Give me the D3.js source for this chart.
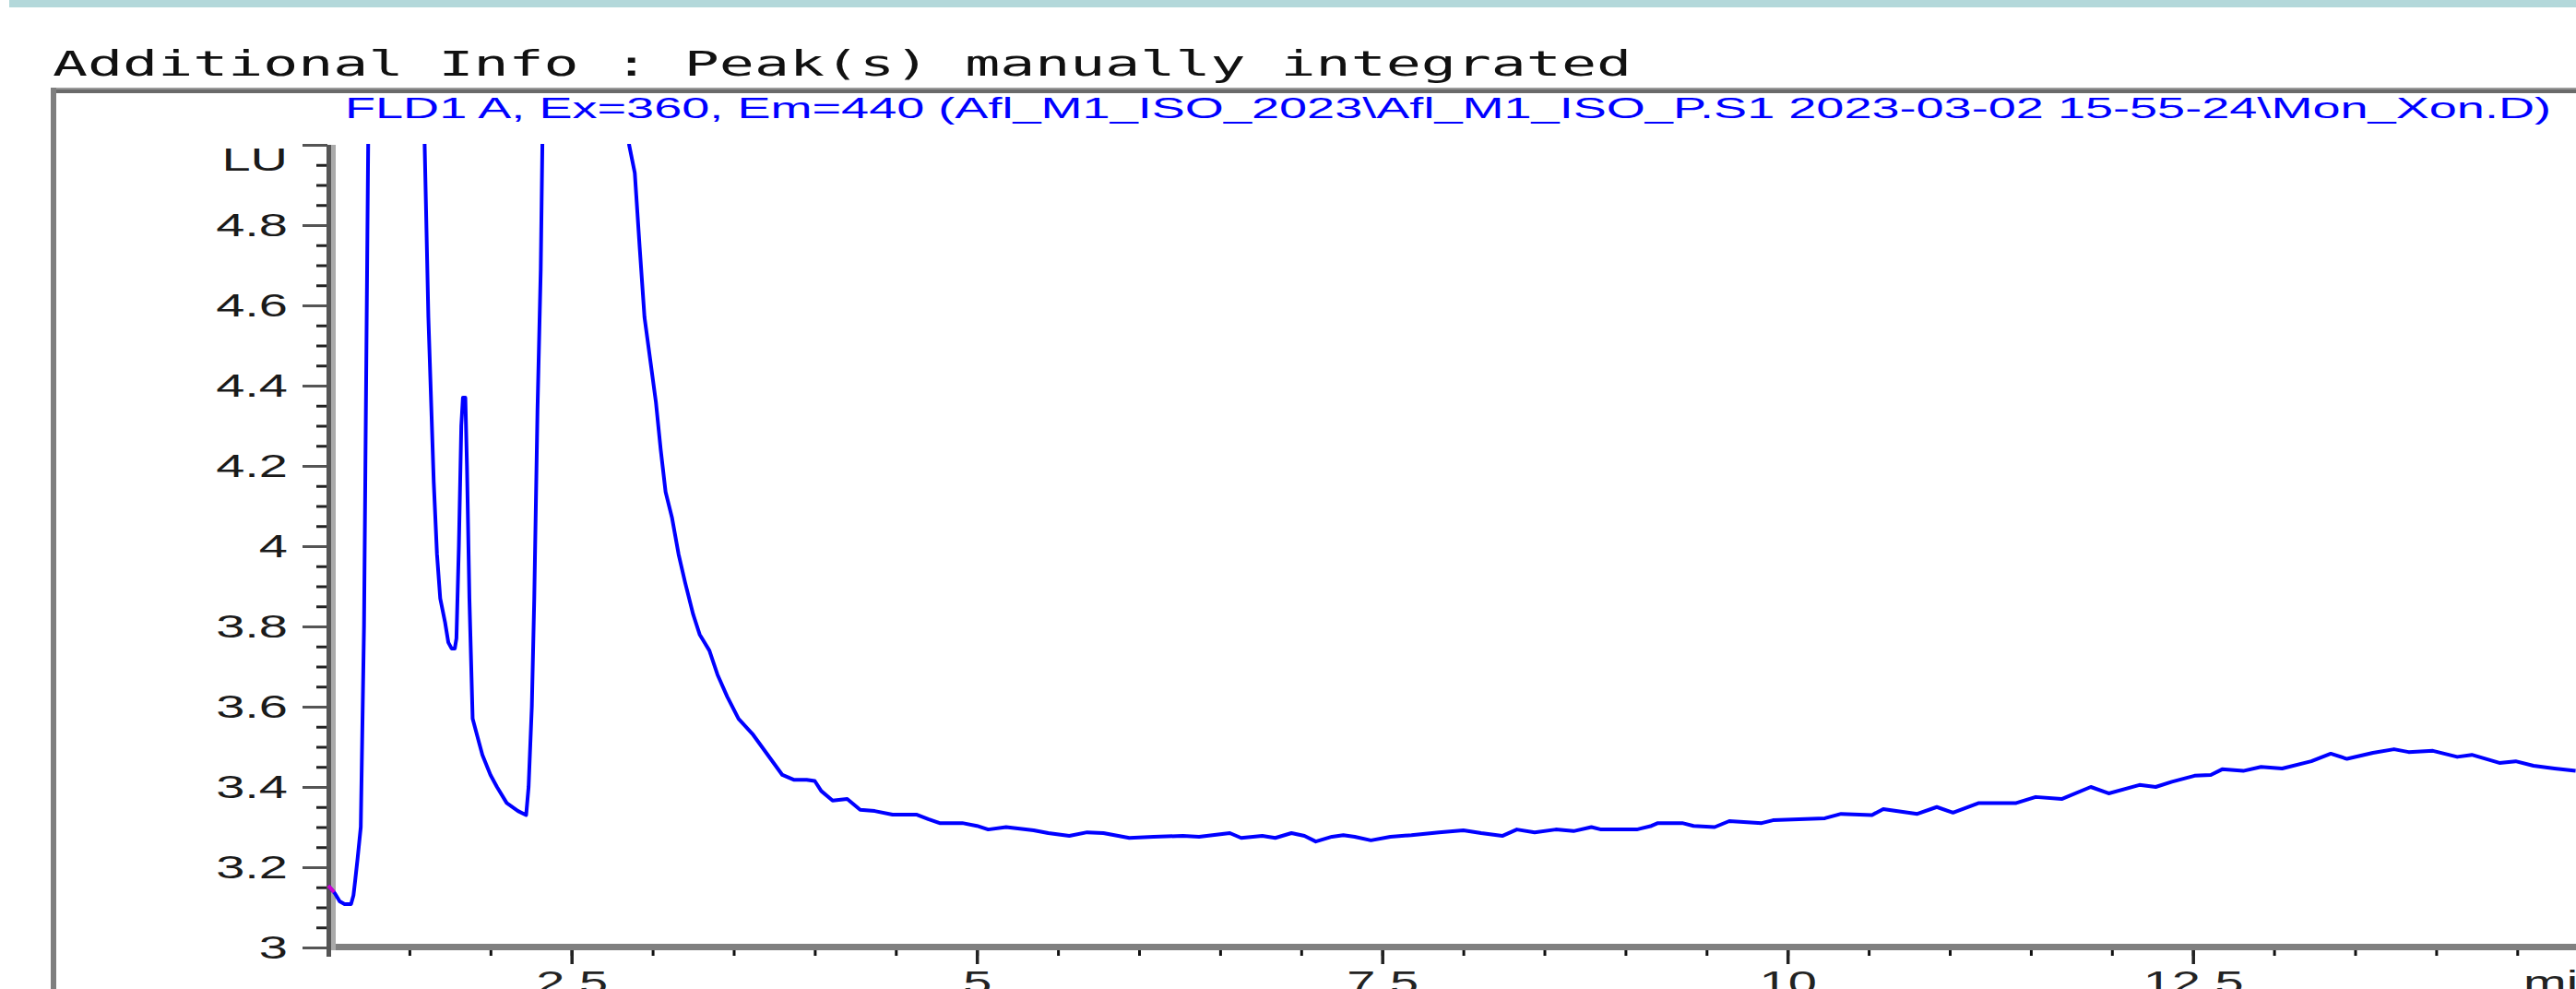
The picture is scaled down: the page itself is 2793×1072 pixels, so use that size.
<!DOCTYPE html>
<html>
<head>
<meta charset="utf-8">
<script src="https://cdn.jsdelivr.net/npm/d3@7"></script>
<style>
  html, body { margin: 0; padding: 0; background: #fff; overflow: hidden; }
</style>
</head>
<body>
<div id="wrapper"></div>
<script>
// retention time (min) and signal (LU)
const times = [
  1.00, 1.04, 1.07, 1.10, 1.14, 1.155, 1.165, 1.18, 1.20, 1.22, 1.235, 1.25, 1.40,
  1.58, 1.594, 1.617, 1.65, 1.67, 1.69, 1.72, 1.74, 1.76, 1.78, 1.79, 1.805, 1.82,
  1.83, 1.845, 1.855, 1.87, 1.89, 1.93, 1.95, 2.00, 2.04, 2.10, 2.17, 2.22, 2.235,
  2.255, 2.27, 2.29, 2.31, 2.32, 2.35, 2.55, 2.84, 2.855, 2.89, 2.92, 2.95, 2.99,
  3.02, 3.05, 3.08, 3.12, 3.16, 3.20, 3.25, 3.29, 3.35, 3.40, 3.46, 3.53, 3.62,
  3.71, 3.80, 3.87, 3.95, 4.00, 4.04, 4.11, 4.20, 4.28, 4.37, 4.48, 4.63, 4.70,
  4.77, 4.91, 5.00, 5.07, 5.18, 5.35, 5.44, 5.57, 5.68, 5.78, 5.94, 6.09, 6.27,
  6.37, 6.56, 6.63, 6.76, 6.84, 6.94, 7.02, 7.09, 7.19, 7.26, 7.33, 7.43, 7.55,
  7.68, 7.85, 8.00, 8.11, 8.24, 8.33, 8.44, 8.57, 8.68, 8.79, 8.85, 9.07, 9.16,
  9.20, 9.35, 9.42, 9.55, 9.64, 9.84, 9.91, 10.23, 10.33, 10.52, 10.59, 10.80,
  10.92, 11.02, 11.18, 11.41, 11.53, 11.69, 11.87, 11.98, 12.17, 12.27, 12.37,
  12.51, 12.61, 12.68, 12.81, 12.92, 13.05, 13.23, 13.35, 13.45, 13.61, 13.74,
  13.83, 13.98, 14.13, 14.22, 14.39, 14.49, 14.60, 14.73, 14.86
];
const signal = [
  3.154, 3.135, 3.115, 3.108, 3.108, 3.13, 3.165, 3.22, 3.30, 3.80, 4.50, 5.20, 8.0,
  5.30, 5.00, 4.57, 4.16, 3.98, 3.87, 3.81, 3.76, 3.745, 3.745, 3.77, 4.00, 4.30,
  4.37, 4.37, 4.20, 3.87, 3.57, 3.51, 3.48, 3.43, 3.40, 3.36, 3.34, 3.33, 3.40,
  3.60, 3.87, 4.34, 4.69, 5.00, 5.50, 9.0, 5.30, 5.00, 4.93, 4.745, 4.57, 4.45,
  4.36, 4.24, 4.135, 4.07, 3.98, 3.91, 3.83, 3.78, 3.74, 3.68, 3.625, 3.57, 3.53,
  3.48, 3.43, 3.418, 3.418, 3.415, 3.39, 3.366, 3.37, 3.343, 3.34, 3.331, 3.331, 3.32,
  3.31, 3.31, 3.303, 3.294, 3.30, 3.292, 3.285, 3.278, 3.287, 3.285, 3.273, 3.276, 3.278,
  3.276, 3.285, 3.273, 3.278, 3.273, 3.285, 3.278, 3.264, 3.276, 3.28, 3.276, 3.267, 3.276,
  3.28, 3.287, 3.292, 3.285, 3.278, 3.294, 3.287, 3.294, 3.29, 3.30, 3.294, 3.294, 3.303,
  3.31, 3.31, 3.303, 3.30, 3.315, 3.31, 3.317, 3.322, 3.333, 3.33, 3.345, 3.333,
  3.35, 3.336, 3.36, 3.36, 3.375, 3.37, 3.40, 3.384, 3.405, 3.40, 3.413,
  3.428, 3.43, 3.444, 3.44, 3.45, 3.446, 3.464, 3.483, 3.47, 3.485, 3.494,
  3.487, 3.49, 3.475, 3.48, 3.46, 3.464, 3.453, 3.446, 3.44
];

// baseline marker at the start of the run (magenta)
const baselineTimes = [1.00, 1.035];
const baselineSignal = [3.154, 3.138];

const xMajorTicks = [2.5, 5, 7.5, 10, 12.5];
const xMinorTicks = d3.range(1, 15.01, 0.5);
const yMajorTicks = [3, 3.2, 3.4, 3.6, 3.8, 4, 4.2, 4.4, 4.6, 4.8, 5];
const yMinorTicks = d3.range(3, 5.001, 0.05);

const headerText = "Additional Info : Peak(s) manually integrated";
const signalTitle = "FLD1 A, Ex=360, Em=440 (Afl_M1_ISO_2023\\Afl_M1_ISO_P.S1 2023-03-02 15-55-24\\Mon_Xon.D)";

const width = 2793, height = 1072;
const stretch = 1.6; // screenshot text is widened horizontally

const x = d3.scaleLinear().domain([1, 15]).range([356, 356 + 14 * 175.8]);
const y = d3.scaleLinear().domain([3, 5]).range([1027, 157]);

const svg = d3.select("#wrapper").append("svg")
  .attr("width", width)
  .attr("height", height)
  .style("display", "block");

// top teal band
svg.append("rect")
  .attr("x", 10).attr("y", 0)
  .attr("width", width - 10).attr("height", 8)
  .attr("fill", "#b3d8da");

svg.append("text")
  .attr("x", 57).attr("y", 82)
  .attr("textLength", 1712)
  .attr("lengthAdjust", "spacingAndGlyphs")
  .style("font", "37px 'DejaVu Sans Mono'")
  .attr("fill", "#111")
  .text(headerText);

// outer frame (top and left)
svg.append("rect").attr("x", 55).attr("y", 95).attr("width", width - 55).attr("height", 2).attr("fill", "#9a9a9a");
svg.append("rect").attr("x", 55).attr("y", 97).attr("width", width - 55).attr("height", 4).attr("fill", "#6a6a6a");
svg.append("rect").attr("x", 55).attr("y", 95).attr("width", 6).attr("height", height - 95).attr("fill", "#7f7f7f");

svg.append("text")
  .attr("x", 374).attr("y", 128)
  .attr("textLength", 2392)
  .attr("lengthAdjust", "spacingAndGlyphs")
  .style("font", "31px 'Liberation Sans', Arial, sans-serif")
  .attr("fill", "#0000ff")
  .text(signalTitle);

// y axis: minor then major ticks
const yMinor = svg.append("g")
  .attr("transform", "translate(355,0)")
  .call(d3.axisLeft(y).tickValues(yMinorTicks).tickSize(12).tickFormat(""));
yMinor.select(".domain").remove();
yMinor.selectAll(".tick line").attr("stroke", "#222").attr("stroke-width", 3);

const yMajor = svg.append("g")
  .attr("transform", "translate(355,0)")
  .call(d3.axisLeft(y).tickValues(yMajorTicks).tickSize(27).tickFormat(d => d === 5 ? "" : d3.format("~g")(d)));
yMajor.select(".domain").remove();
yMajor.selectAll(".tick line").attr("stroke", "#555").attr("stroke-width", 3);
yMajor.selectAll(".tick text")
  .attr("x", null)
  .attr("transform", `translate(-43,0) scale(${stretch},1)`)
  .attr("fill", "#1a1a1a")
  .style("font", "35px 'Liberation Sans', Arial, sans-serif");

svg.append("text")
  .attr("transform", `translate(312,${y(5) + 16}) scale(${stretch},1)`)
  .attr("dy", "0.35em")
  .attr("text-anchor", "end")
  .attr("fill", "#1a1a1a")
  .style("font", "35px 'Liberation Sans', Arial, sans-serif")
  .text("LU");

// x axis ticks
const xMinor = svg.append("g")
  .attr("transform", "translate(0,1027)")
  .call(d3.axisBottom(x).tickValues(xMinorTicks).tickSize(9).tickFormat(""));
xMinor.select(".domain").remove();
xMinor.selectAll(".tick line").attr("stroke", "#111").attr("stroke-width", 3);

const xMajor = svg.append("g")
  .attr("transform", "translate(0,1027)")
  .call(d3.axisBottom(x).tickValues(xMajorTicks).tickSize(18).tickFormat(d3.format("~g")));
xMajor.select(".domain").remove();
xMajor.selectAll(".tick line").attr("stroke", "#222").attr("stroke-width", 3.5);
xMajor.selectAll(".tick text")
  .attr("y", null).attr("dy", null)
  .attr("transform", `translate(0,50) scale(${stretch},1)`)
  .attr("fill", "#222")
  .style("font", "35px 'Liberation Sans', Arial, sans-serif");

svg.append("text")
  .attr("transform", `translate(2736,1077) scale(${stretch},1)`)
  .attr("fill", "#222")
  .style("font", "35px 'Liberation Sans', Arial, sans-serif")
  .text("min");

// axis lines
svg.append("rect").attr("x", 356).attr("y", 1023).attr("width", width - 356).attr("height", 7).attr("fill", "#808080");
svg.append("rect").attr("x", 354).attr("y", 157).attr("width", 5).attr("height", 880).attr("fill", "#555");
svg.append("rect").attr("x", 359).attr("y", 157).attr("width", 5).attr("height", 873).attr("fill", "#aaa");

// trace
svg.append("clipPath").attr("id", "plot-clip")
  .append("rect")
  .attr("x", 356).attr("y", 156)
  .attr("width", width - 356).attr("height", 1023 - 156);

const line = d3.line()
  .x(i => x(times[i]))
  .y(i => y(signal[i]));

svg.append("path")
  .attr("clip-path", "url(#plot-clip)")
  .attr("d", line(d3.range(times.length)))
  .attr("fill", "none")
  .attr("stroke", "#0000ff")
  .attr("stroke-width", 4)
  .attr("stroke-linejoin", "round");

const baseLine = d3.line()
  .x(i => x(baselineTimes[i]))
  .y(i => y(baselineSignal[i]));

svg.append("path")
  .attr("d", baseLine(d3.range(baselineTimes.length)))
  .attr("fill", "none")
  .attr("stroke", "#d000d0")
  .attr("stroke-width", 4);
</script>
</body>
</html>
